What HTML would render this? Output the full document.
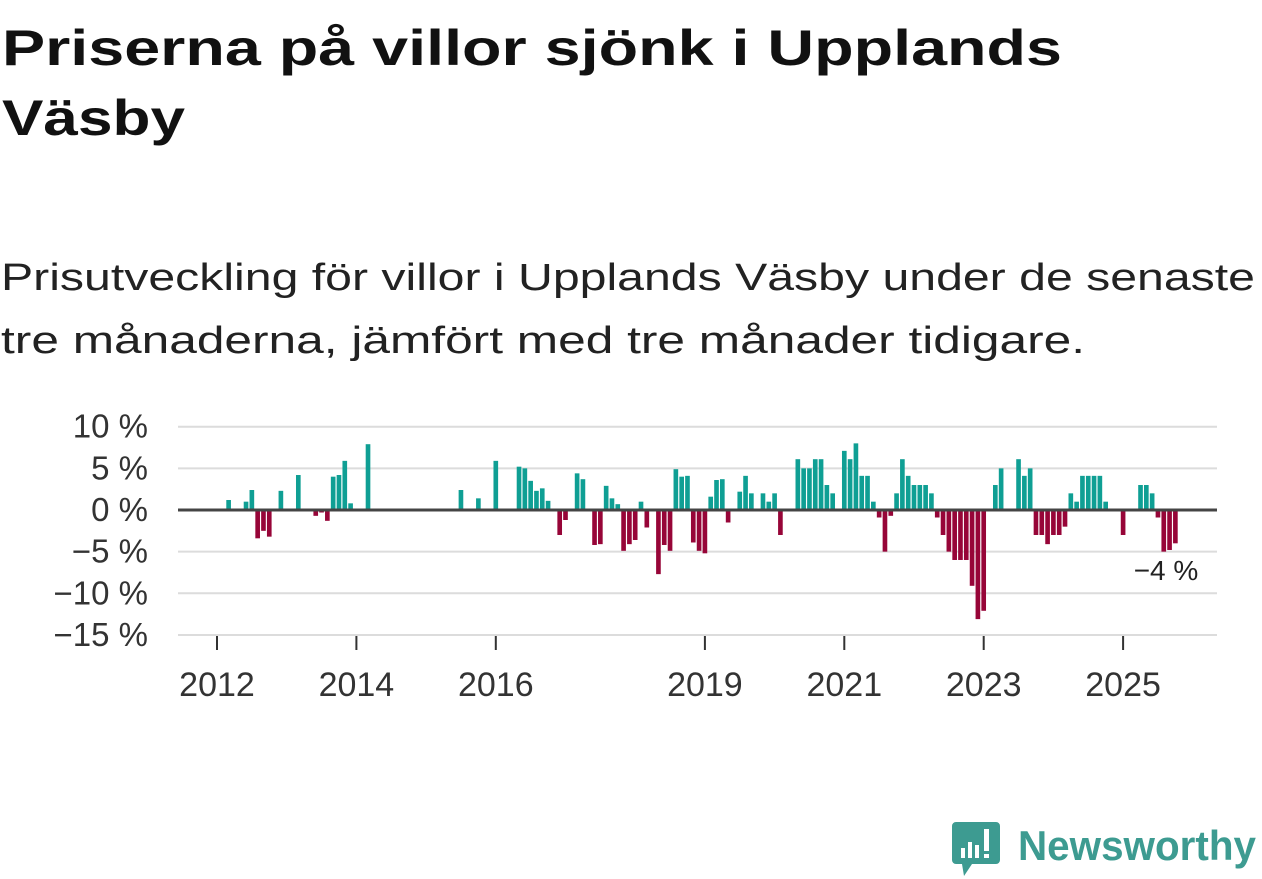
<!DOCTYPE html>
<html><head><meta charset="utf-8"><style>
html,body{margin:0;padding:0;background:#fff;width:1262px;height:879px;overflow:hidden}
svg{display:block;font-family:"Liberation Sans","DejaVu Sans",sans-serif}
</style></head><body>
<svg id="chart" width="1262" height="879" viewBox="0 0 1262 879" xmlns="http://www.w3.org/2000/svg">
<text x="2" y="65" font-size="50" font-weight="bold" fill="#111" textLength="1060" lengthAdjust="spacingAndGlyphs">Priserna på villor sjönk i Upplands</text>
<text x="2" y="135" font-size="50" font-weight="bold" fill="#111" textLength="183" lengthAdjust="spacingAndGlyphs">Väsby</text>
<text x="1" y="290" font-size="38" fill="#222" textLength="1254" lengthAdjust="spacingAndGlyphs">Prisutveckling för villor i Upplands Väsby under de senaste</text>
<text x="1" y="353" font-size="38" fill="#222" textLength="1084" lengthAdjust="spacingAndGlyphs">tre månaderna, jämfört med tre månader tidigare.</text>
<g id="grid"></g>
<g id="bars"></g>
<g id="axes"></g>
<text x="1166" y="580" font-size="28" fill="#222" text-anchor="middle">−4 %</text>
<g>
<path d="M956 822 h40 a4 4 0 0 1 4 4 v34 a4 4 0 0 1 -4 4 h-24 l-8 12 l-2 -12 h-6 a4 4 0 0 1 -4 -4 v-34 a4 4 0 0 1 4 -4z" fill="#3d9b91"/>
<rect x="961" y="848" width="4" height="10" fill="#fff"/>
<rect x="968" y="842" width="4" height="16" fill="#fff"/>
<rect x="975" y="845" width="4" height="13" fill="#fff"/>
<rect x="984" y="829" width="5" height="22" fill="#fff"/>
<rect x="984" y="854" width="5" height="4" fill="#fff"/>
<text x="1018" y="860" font-size="42" font-weight="bold" fill="#3d9b91" textLength="238" lengthAdjust="spacingAndGlyphs">Newsworthy</text>
</g>
</svg>
<script>
// monthly values starting Jan 2012 (index 0); null = missing
const startYear = 2012;
const values = [null,null,1.2,null,null,1.0,2.4,-3.4,-2.5,-3.2,null,2.3,
null,null,4.2,null,null,-0.7,-0.3,-1.3,4.0,4.2,5.9,0.8,
null,null,7.9,null,null,null,null,null,null,null,null,null,
null,null,null,null,null,null,2.4,null,null,1.4,null,null,
5.9,null,null,null,5.2,5.0,3.5,2.3,2.6,1.1,null,-3.0,
-1.2,null,4.4,3.7,null,-4.2,-4.1,2.9,1.4,0.7,-4.9,-4.1,
-3.6,1.0,-2.1,null,-7.7,-4.2,-4.9,4.9,4.0,4.1,-3.9,-4.9,
-5.2,1.6,3.6,3.7,-1.5,null,2.2,4.1,2.0,null,2.0,1.0,
2.0,-3.0,null,null,6.1,5.0,5.0,6.1,6.1,3.0,2.0,null,
7.1,6.1,8.0,4.1,4.1,1.0,-0.9,-5.0,-0.7,2.0,6.1,4.1,
3.0,3.0,3.0,2.0,-0.9,-3.0,-5.0,-6.0,-6.0,-6.0,-9.1,-13.1,
-12.1,null,3.0,5.0,null,null,6.1,4.1,5.0,-3.0,-3.0,-4.1,
-3.0,-3.0,-2.0,2.0,1.0,4.1,4.1,4.1,4.1,1.0,null,null,
-3.0,null,null,3.0,3.0,2.0,-0.9,-5.0,-4.8,-4.0];
const yTicks = [10,5,0,-5,-10,-15];
const yTickLabels = ["10 %","5 %","0 %","−5 %","−10 %","−15 %"];
const xTickYears = [2012,2014,2016,2019,2021,2023,2025];

const NS="http://www.w3.org/2000/svg";
const x0=217, pxPerMonth=69.7/12, y0=510, pxPerPct=8.33;
function xScale(m){return x0+m*pxPerMonth;}
function yScale(v){return y0-v*pxPerPct;}
function mk(tag,attrs,parent){const e=document.createElementNS(NS,tag);for(const k in attrs)e.setAttribute(k,attrs[k]);parent.appendChild(e);return e;}
const grid=document.getElementById('grid'), bars=document.getElementById('bars'), axes=document.getElementById('axes');
yTicks.forEach((t,i)=>{
  if(t!==0){const l=mk('line',{x1:178,x2:1217,y1:yScale(t),y2:yScale(t),stroke:'#dcdcdc','stroke-width':2},grid);
  
  }
  const tx=mk('text',{x:148,y:yScale(t)+11,'font-size':33,fill:'#333','text-anchor':'end'},axes);
  tx.textContent=yTickLabels[i];
  
  
});
const bw=pxPerMonth*0.8;
values.forEach((v,m)=>{
  if(v===null)return;
  const cx=xScale(m);
  const r=mk('rect',{x:cx-bw/2,y:Math.min(yScale(v),y0),width:bw,height:Math.abs(yScale(v)-y0),fill:v>=0?'#0f9f94':'#970538'},bars);
  
  
});
const zl=mk('line',{x1:178,x2:1217,y1:y0,y2:y0,stroke:'#444','stroke-width':3},axes);


xTickYears.forEach(yr=>{
  const x=xScale((yr-startYear)*12);
  const tk=mk('line',{x1:x,x2:x,y1:636,y2:650,stroke:'#333','stroke-width':2},axes);
  
  
  const tx=mk('text',{x:x,y:696,'font-size':34,fill:'#333','text-anchor':'middle'},axes);
  tx.textContent=yr;
  
  
});
</script>
</body></html>
